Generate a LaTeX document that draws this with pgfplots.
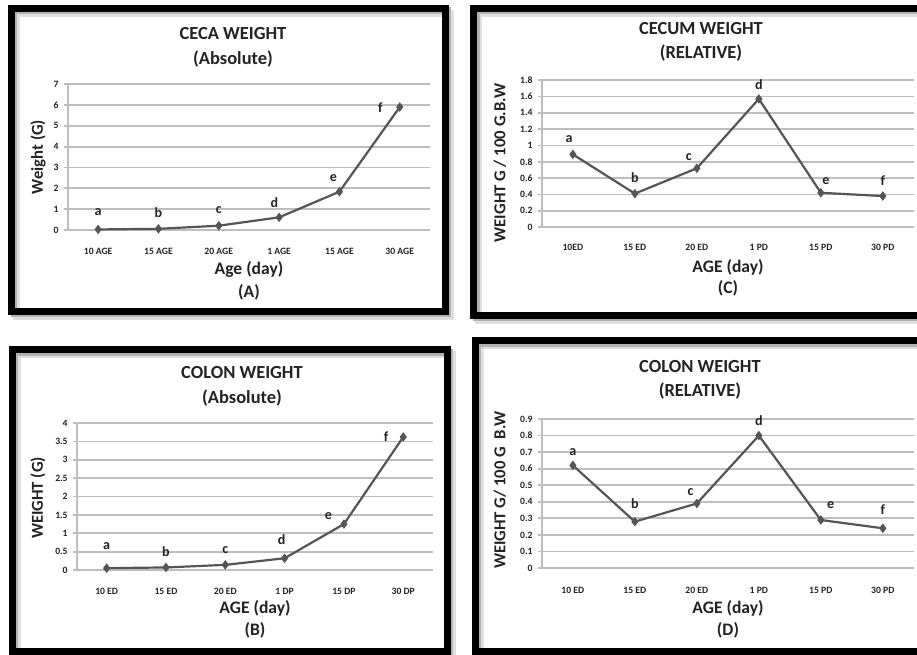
\documentclass[border=0pt]{standalone}
\usepackage{fontspec}
\setmainfont{Carlito}
\usepackage{pgfplots}
\pgfplotsset{compat=1.18}
\definecolor{gridc}{RGB}{190,190,190}
\definecolor{linec}{RGB}{85,85,85}
\definecolor{txt}{RGB}{35,35,35}
\definecolor{lett}{RGB}{35,35,50}

\pgfplotsset{
  panel/.style={
    scale only axis, anchor=south west, clip=false,
    xmin=-0.5, xmax=5.5, xtick={0,...,5}, ymin=0,
    axis lines*=left,
    axis line style={gridc, line width=1pt},
    ymajorgrids, grid style={gridc, line width=1pt},
    x tick style={draw=none},
    y tick style={gridc, line width=1pt},
    tick align=outside, major tick length=0.08cm,
    tick label style={font=\fontsize{5.5}{6}\selectfont\bfseries, text=txt},
    yticklabel style={anchor=east, inner sep=0pt, xshift=-0.1cm},
    /pgf/number format/assume math mode=true,
  },
  dataline/.style={linec, line width=1.25pt, mark=diamond*, mark size=1.7pt, mark options={fill=linec, draw=linec}},
  letters/.style={draw=none, mark=none, nodes near coords, point meta=explicit symbolic,
    nodes near coords align={center},
    every node near coord/.style={anchor=center, font=\fontsize{8}{9}\selectfont\bfseries, text=lett}},
}
\newcommand{\ttl}{\fontsize{10.5}{12}\selectfont\bfseries}
\newcommand{\lbl}{\fontsize{10}{12}\selectfont\bfseries}
\newcommand{\ylbl}{\fontsize{9.5}{11}\selectfont\bfseries}
\newcommand{\panelframe}[4]{%
  \draw[line width=0.14cm, black!12] (#1+5,#2-5) rectangle (#3+5,#4-5);
  \draw[line width=0.14cm, black!30] (#1+2.5,#2-2.5) rectangle (#3+2.5,#4-2.5);
  \draw[line width=0.14cm, black] (#1,#2) rectangle (#3,#4);}

\begin{document}
\begin{tikzpicture}[x=0.02cm, y=0.02cm]
\useasboundingbox (0,0) rectangle (917,655);
\fill[white] (0,0) rectangle (917,655);

% frames (pixel coords, y up)
\panelframe{11.5}{343.5}{445}{646.5}
\panelframe{473.5}{339.5}{930}{646.5}
\panelframe{12.5}{3}{447}{305}
\panelframe{475}{3}{930}{314}

% ---------- Panel A ----------
\begin{axis}[panel, at={(1.36cm,8.50cm)}, width=7.24cm, height=2.92cm,
  ymax=7, ytick={0,1,...,7},
  xticklabels={10 AGE,15 AGE,20 AGE,1 AGE,15 AGE,30 AGE},
  xticklabel style={anchor=center, yshift=-0.34cm}]
\addplot[dataline] coordinates {(0,0.03) (1,0.06) (2,0.21) (3,0.61) (4,1.84) (5,5.9)};
\addplot[letters] table[row sep=\\, meta=l] {x y l\\ 0 0.85 a\\ 1 0.82 b\\ 2 0.96 c\\ 2.92 1.33 d\\ 3.9 2.5 e\\ 4.68 5.85 f\\};
\end{axis}
\node[text=txt, font=\ttl] at (233,621) {CECA WEIGHT};
\node[text=txt, font=\ttl] at (233,596) {(Absolute)};
\node[text=txt, font=\lbl] at (249,386) {Age (day)};
\node[text=txt, font=\lbl] at (249,363) {(A)};
\node[text=txt, font=\ylbl, rotate=90] at (38,498) {Weight (G)};

% ---------- Panel C ----------
\begin{axis}[panel, at={(10.84cm,8.56cm)}, width=7.44cm, height=2.94cm,
  ymax=1.8, ytick={0,0.2,0.4,0.6,0.8,1,1.2,1.4,1.6,1.8},
  xticklabels={10ED,15 ED,20 ED,1 PD,15 PD,30 PD},
  xticklabel style={anchor=center, yshift=-0.32cm}]
\addplot[dataline] coordinates {(0,0.89) (1,0.41) (2,0.72) (3,1.57) (4,0.42) (5,0.38)};
\addplot[letters] table[row sep=\\, meta=l] {x y l\\ -0.06 1.08 a\\ 1 0.61 b\\ 1.87 0.86 c\\ 3 1.74 d\\ 4.08 0.56 e\\ 5 0.57 f\\};
\end{axis}
\node[text=txt, font=\ttl] at (701,626) {CECUM WEIGHT};
\node[text=txt, font=\ttl] at (701,602) {(RELATIVE)};
\node[text=txt, font=\lbl] at (728,388) {AGE (day)};
\node[text=txt, font=\lbl] at (728,367) {(C)};
\node[text=txt, font=\ylbl, rotate=90] at (500,492) {WEIGHT G / 100 G.B.W};

% ---------- Panel B ----------
\begin{axis}[panel, at={(1.54cm,1.70cm)}, width=7.12cm, height=2.94cm,
  ymax=4, ytick={0,0.5,1,1.5,2,2.5,3,3.5,4},
  xticklabels={10 ED,15 ED,20 ED,1 DP,15 DP,30 DP},
  xticklabel style={anchor=center, yshift=-0.34cm}]
\addplot[dataline] coordinates {(0,0.05) (1,0.07) (2,0.14) (3,0.32) (4,1.25) (5,3.62)};
\addplot[letters] table[row sep=\\, meta=l] {x y l\\ 0 0.65 a\\ 1 0.5 b\\ 2 0.55 c\\ 2.95 0.82 d\\ 3.74 1.47 e\\ 4.71 3.64 f\\};
\end{axis}
\node[text=txt, font=\ttl] at (242,282) {COLON WEIGHT};
\node[text=txt, font=\ttl] at (242,257) {(Absolute)};
\node[text=txt, font=\lbl] at (255,47) {AGE (day)};
\node[text=txt, font=\lbl] at (255,25) {(B)};
\node[text=txt, font=\ylbl, rotate=90] at (38,157) {WEIGHT (G)};

% ---------- Panel D ----------
\begin{axis}[panel, at={(10.84cm,1.74cm)}, width=7.44cm, height=2.98cm,
  ymax=0.9, ytick={0,0.1,0.2,0.3,0.4,0.5,0.6,0.7,0.8,0.9},
  xticklabels={10 ED,15 ED,20 ED,1 PD,15 PD,30 PD},
  xticklabel style={anchor=center, yshift=-0.36cm}]
\addplot[dataline] coordinates {(0,0.62) (1,0.28) (2,0.39) (3,0.80) (4,0.29) (5,0.24)};
\addplot[letters] table[row sep=\\, meta=l] {x y l\\ 0 0.70 a\\ 1 0.39 b\\ 1.90 0.46 c\\ 3 0.89 d\\ 4.16 0.38 e\\ 5 0.35 f\\};
\end{axis}
\node[text=txt, font=\ttl] at (700,288) {COLON WEIGHT};
\node[text=txt, font=\ttl] at (700,264) {(RELATIVE)};
\node[text=txt, font=\lbl] at (728,47) {AGE (day)};
\node[text=txt, font=\lbl] at (728,25) {(D)};
\node[text=txt, font=\ylbl, rotate=90] at (500,165) {WEIGHT G/ 100 G\ \ B.W};
\end{tikzpicture}
\end{document}
